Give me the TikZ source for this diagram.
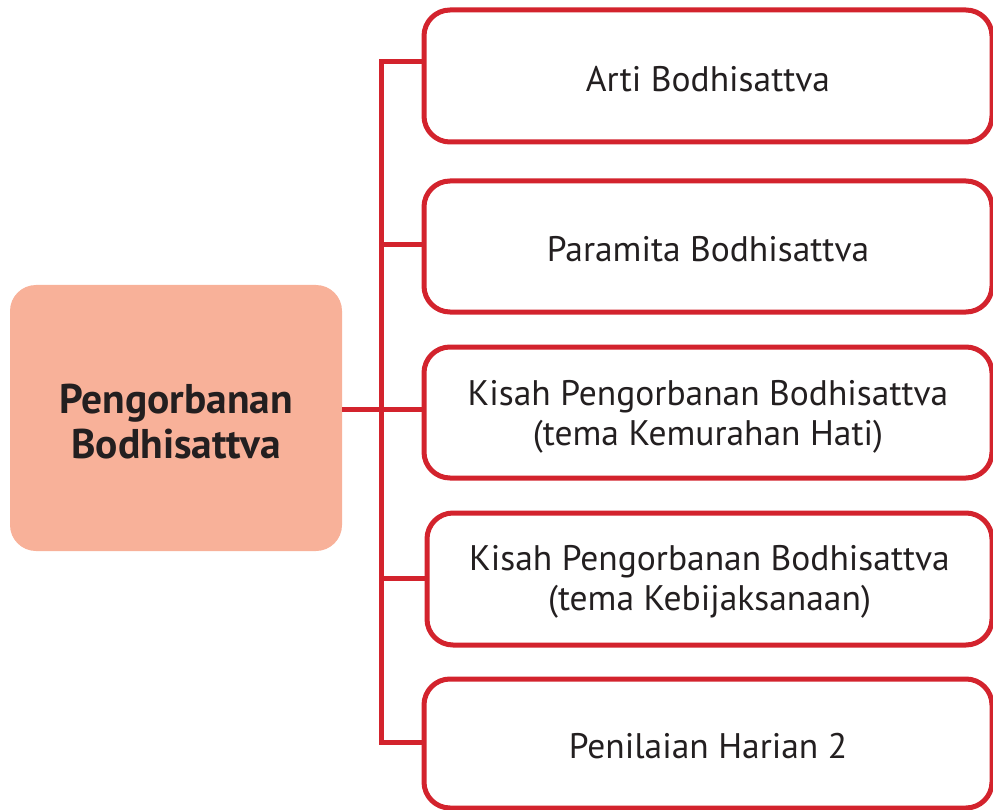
\documentclass[tikz,border=0pt]{standalone}
\usepackage{fontspec}
\setmainfont{PT Sans}
\definecolor{boxred}{HTML}{D3232D}
\definecolor{salmon}{HTML}{F8B199}
\definecolor{txt}{HTML}{231F20}
\begin{document}
\begin{tikzpicture}[x=1pt,y=-1pt,
  topic/.style={draw=boxred, line width=5pt, rounded corners=26pt, fill=white,
    minimum width=568pt, inner sep=0pt},
  topictext/.style={align=center, text=txt, inner sep=0pt,
    font=\fontsize{35.5}{40}\selectfont},
  rootbox/.style={fill=salmon, rounded corners=26pt, minimum width=332pt,
    minimum height=266pt, inner sep=0pt},
  roottext/.style={align=center, text=txt, inner sep=0pt,
    font=\bfseries\fontsize{41.5}{45}\selectfont},
  link/.style={draw=boxred, line width=5pt}]
\useasboundingbox (0,0) rectangle (993,810);
\node[rootbox] (root) at (176,418) {};
\node[roottext] (roott) at (176,422) {Pengorbanan\\Bodhisattva};
\node[topic, minimum height=132pt] (b1) at (708,76) {};
\node[topic, minimum height=131pt] (b2) at (708,246.5) {};
\node[topic, minimum height=131pt] (b3) at (708,412.5) {};
\node[topic, minimum height=132pt, minimum width=565pt] (b4) at (709.5,579) {};
\node[topic, minimum height=129pt] (b5) at (708,743.5) {};
\node[topictext] (t1) at ([yshift=-3pt]b1.center) {Arti Bodhisattva};
\node[topictext] (t2) at ([yshift=-3pt]b2.center) {Paramita Bodhisattva};
\node[topictext] (t3) at ([yshift=-4pt]b3.center) {Kisah Pengorbanan Bodhisattva\\(tema Kemurahan Hati)};
\node[topictext] (t4) at ([yshift=-3pt]b4.center) {Kisah Pengorbanan Bodhisattva\\(tema Kebijaksanaan)};
\node[topictext] (t5) at ([yshift=-3pt]b5.center) {Penilaian Harian 2};
\coordinate (j1) at (381,62);
\coordinate (j2) at (381,245);
\coordinate (j3) at (381,409);
\coordinate (j4) at (381,578);
\coordinate (j5) at (381,742);
\draw[link] (b1.west |- j1) -- (j1) -- (j5) -- (b5.west |- j5);
\draw[link] (j2) -- (b2.west |- j2);
\draw[link] (root.east |- j3) -- (b3.west |- j3);
\draw[link] (j4) -- (b4.west |- j4);
\end{tikzpicture}
\end{document}
